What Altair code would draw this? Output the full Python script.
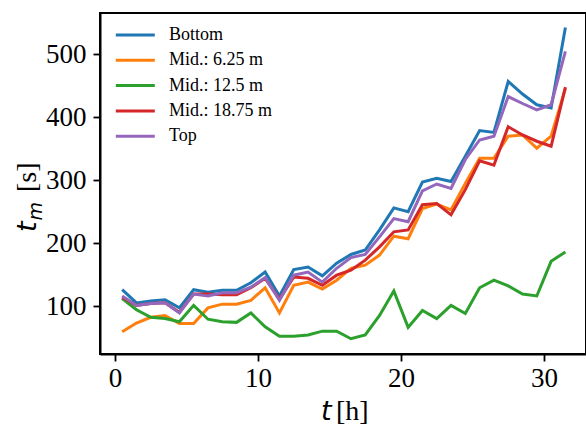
import altair as alt
import pandas as pd

hours = [k + 0.5 for k in range(32)]
series_names = ["Bottom", "Mid.: 6.25 m", "Mid.: 12.5 m", "Mid.: 18.75 m", "Top"]
colors = ["#1f77b4", "#ff7f0e", "#2ca02c", "#d62728", "#9467bd"]

bottom = [126, 105, 108, 110, 97, 126, 122, 125, 125, 137, 154, 116, 158, 162, 148, 168,
          182, 189, 221, 256, 250, 297, 303, 298, 338, 379, 376, 457, 437, 420, 415, 543]
mid_625 = [59, 73, 82, 85, 72, 72, 97, 103, 103, 109, 129, 89, 133, 138, 127, 141,
           160, 165, 181, 211, 207, 255, 262, 253, 295, 335, 335, 370, 372, 351, 370, 446]
mid_125 = [112, 94, 82, 80, 75, 101, 79, 75, 74, 89, 67, 52, 52, 54, 60, 60,
           48, 54, 85, 124, 66, 93, 80, 101, 88, 129, 141, 132, 119, 116, 171, 186]
mid_1875 = [114, 101, 104, 105, 90, 119, 119, 118, 118, 129, 144, 111, 146, 144, 133, 149,
            157, 173, 194, 218, 221, 261, 263, 245, 285, 331, 324, 385, 372, 362, 354, 448]
top = [116, 101, 104, 105, 89, 119, 116, 121, 121, 130, 145, 109, 149, 154, 138, 160,
       177, 182, 210, 239, 234, 283, 294, 287, 333, 364, 370, 433, 422, 412, 420, 505]

x_ticks = [0, 10, 20, 30]
y_ticks = [100, 200, 300, 400, 500]

rows = []
for name, vals in zip(series_names, [bottom, mid_625, mid_125, mid_1875, top]):
    for i, (h, v) in enumerate(zip(hours, vals)):
        rows.append({"t": h, "tm": v, "series": name, "idx": i})
df = pd.DataFrame(rows)

serif = "Liberation Serif"
math = "DejaVu Sans"

lines = alt.Chart(df).mark_line(strokeWidth=3, clip=True).encode(
    x=alt.X("t:Q", scale=alt.Scale(domain=[-1.05, 32.94], nice=False, zero=False),
            axis=alt.Axis(values=x_ticks, title=None, grid=False, format="d")),
    y=alt.Y("tm:Q", scale=alt.Scale(domain=[23.7, 565.9], nice=False, zero=False),
            axis=alt.Axis(values=y_ticks, title=None, grid=False, format="d")),
    color=alt.Color("series:N",
                    scale=alt.Scale(domain=series_names, range=colors),
                    legend=alt.Legend(title=None, orient="none", legendX=14.3, legendY=10.5,
                                      symbolType="stroke", symbolSize=1521, symbolStrokeWidth=3,
                                      labelFont=serif, labelFontSize=18, labelColor="black",
                                      labelOffset=12.7, clipHeight=23, rowPadding=2.3,
                                      padding=0, labelLimit=300)),
    detail="series:N",
    order="idx:Q",
)

base = alt.Chart(pd.DataFrame({"a": [0]}))
# x-axis title: t [h]
xt1 = base.mark_text(text="t", font=math, fontStyle="italic", fontSize=27, align="left",
                     baseline="alphabetic", color="black").encode(x=alt.value(221.0), y=alt.value(407))
xt2 = base.mark_text(text="[h]", font=serif, fontSize=28, align="left",
                     baseline="alphabetic", color="black").encode(x=alt.value(236.0), y=alt.value(407))
# y-axis title: t_m [s]
yt1 = base.mark_text(text="t", font=math, fontStyle="italic", fontSize=27, align="left",
                     baseline="alphabetic", angle=270, color="black").encode(x=alt.value(-64), y=alt.value(219))
yt2 = base.mark_text(text="m", font=math, fontStyle="italic", fontSize=19, align="left",
                     baseline="alphabetic", angle=270, color="black").encode(x=alt.value(-58.5), y=alt.value(207.5))
yt3 = base.mark_text(text="[s]", font=serif, fontSize=28, align="left",
                     baseline="alphabetic", angle=270, color="black").encode(x=alt.value(-64), y=alt.value(179))

chart = alt.layer(lines, xt1, xt2, yt1, yt2, yt3).properties(
    width=486, height=341,
    padding={"left": 100, "top": 13, "right": 0, "bottom": 72},
    autosize=alt.AutoSizeParams(type="none"),
).configure_view(
    stroke="black", strokeWidth=2
).configure_axis(
    labelFont=serif, labelFontSize=27, labelColor="black",
    domainColor="black", domainWidth=2, tickColor="black", tickWidth=1.8, tickSize=7,
    labelPadding=6,
).configure_axisY(labelPadding=7).configure_axisX(labelPadding=4)

chart.save("out.html", embed_options={"renderer": "svg", "actions": False})
